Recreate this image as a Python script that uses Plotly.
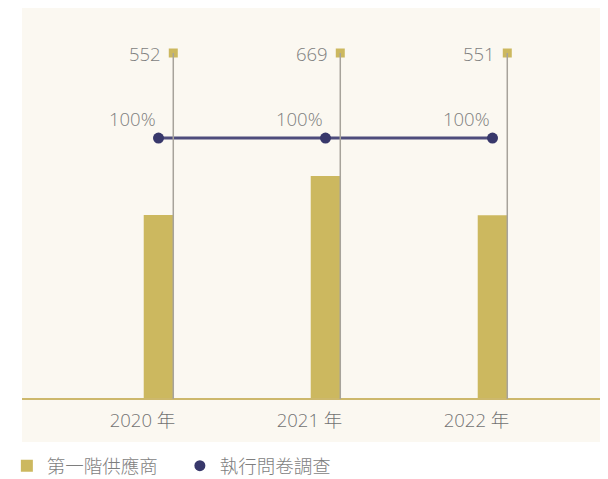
import plotly.graph_objects as go

years = ["2020 年", "2021 年", "2022 年"]
suppliers = [552, 669, 551]
survey_pct = [100, 100, 100]

BAR_COLOR = "#CCB85F"
LINE_COLOR = "#4E4C7C"
DOT_COLOR = "#38386B"
TEXT_COLOR = "#7E7E7E"
FONT = "Open Sans, Noto Sans CJK TC, sans-serif"
FS = 18.5
BAR_W = 0.177

xs = list(range(len(years)))

fig = go.Figure()

fig.add_trace(go.Bar(
    x=xs, y=suppliers, width=BAR_W, marker=dict(color=BAR_COLOR, line=dict(width=0)),
    name="第一階供應商", hoverinfo="skip"))

# square markers at the top of each guide line
fig.add_trace(go.Scatter(
    x=[x + BAR_W / 2 for x in xs], y=[1] * len(xs), yaxis="y3",
    mode="markers", marker=dict(symbol="square", size=9, color=BAR_COLOR),
    showlegend=False, cliponaxis=False, hoverinfo="skip"))

fig.add_trace(go.Scatter(
    x=xs, y=survey_pct, yaxis="y2", mode="lines",
    line=dict(color=LINE_COLOR, width=3), showlegend=False, hoverinfo="skip"))

fig.add_trace(go.Scatter(
    x=xs, y=survey_pct, yaxis="y2", mode="markers",
    marker=dict(size=11, color=DOT_COLOR), name="執行問卷調查",
    cliponaxis=False, hoverinfo="skip"))

annotations = []
for x, v in zip(xs, suppliers):
    annotations.append(dict(x=x + BAR_W / 2, xref="x", y=1, yref="paper",
                            text=str(v), showarrow=False, xanchor="right", yanchor="middle",
                            xshift=-10, font=dict(size=FS, color=TEXT_COLOR, family=FONT, weight=300)))
for x, v in zip(xs, survey_pct):
    annotations.append(dict(x=x, xref="x", y=v, yref="y2",
                            text=f"{v}%", showarrow=False, xanchor="right", yanchor="middle",
                            xshift=-1, yshift=20,
                            font=dict(size=FS, color=TEXT_COLOR, family=FONT, weight=300)))

shapes = [dict(type="rect", xref="paper", yref="paper",
               x0=-0.1058, x1=1.0639, y0=-0.1243, y1=1.15,
               fillcolor="#FBF8F1", line=dict(width=0), layer="below"),
          dict(type="line", xref="paper", yref="paper",
               x0=-0.1058, x1=1.0639, y0=0, y1=0,
               line=dict(color="#CDB86C", width=2), layer="above")]
for x in xs:
    shapes.append(dict(type="line", xref="x", yref="paper",
                       x0=x + BAR_W / 2, x1=x + BAR_W / 2, y0=0, y1=1,
                       line=dict(color="#A7A39B", width=1.5), layer="above"))

fig.update_layout(
    width=600, height=471,
    margin=dict(l=67, r=32, t=45, b=80, autoexpand=False),
    paper_bgcolor="white", plot_bgcolor="rgba(0,0,0,0)",
    font=dict(family=FONT, size=FS, color=TEXT_COLOR),
    shapes=shapes, annotations=annotations,
    showlegend=True,
    legend=dict(orientation="h", x=-0.136, xanchor="left", y=-0.194, yanchor="middle",
                font=dict(size=FS, color=TEXT_COLOR, family=FONT, weight=300),
                bgcolor="rgba(0,0,0,0)", itemwidth=30, entrywidth=128),
    xaxis=dict(range=[-0.5, 2.5], tickvals=xs, ticktext=years, showgrid=False,
               zeroline=False, showline=False,
               ticks="", ticklabelshift=-16, ticklabelstandoff=8,
               tickfont=dict(size=FS, color="#727272", family=FONT, weight=300)),
    yaxis=dict(range=[0, 1038], visible=False, showgrid=False, zeroline=False),
    yaxis2=dict(range=[0, 132.6], overlaying="y", visible=False, showgrid=False, zeroline=False),
    yaxis3=dict(range=[0, 1], overlaying="y", visible=False, showgrid=False, zeroline=False),
)

fig.write_html("out.html")
